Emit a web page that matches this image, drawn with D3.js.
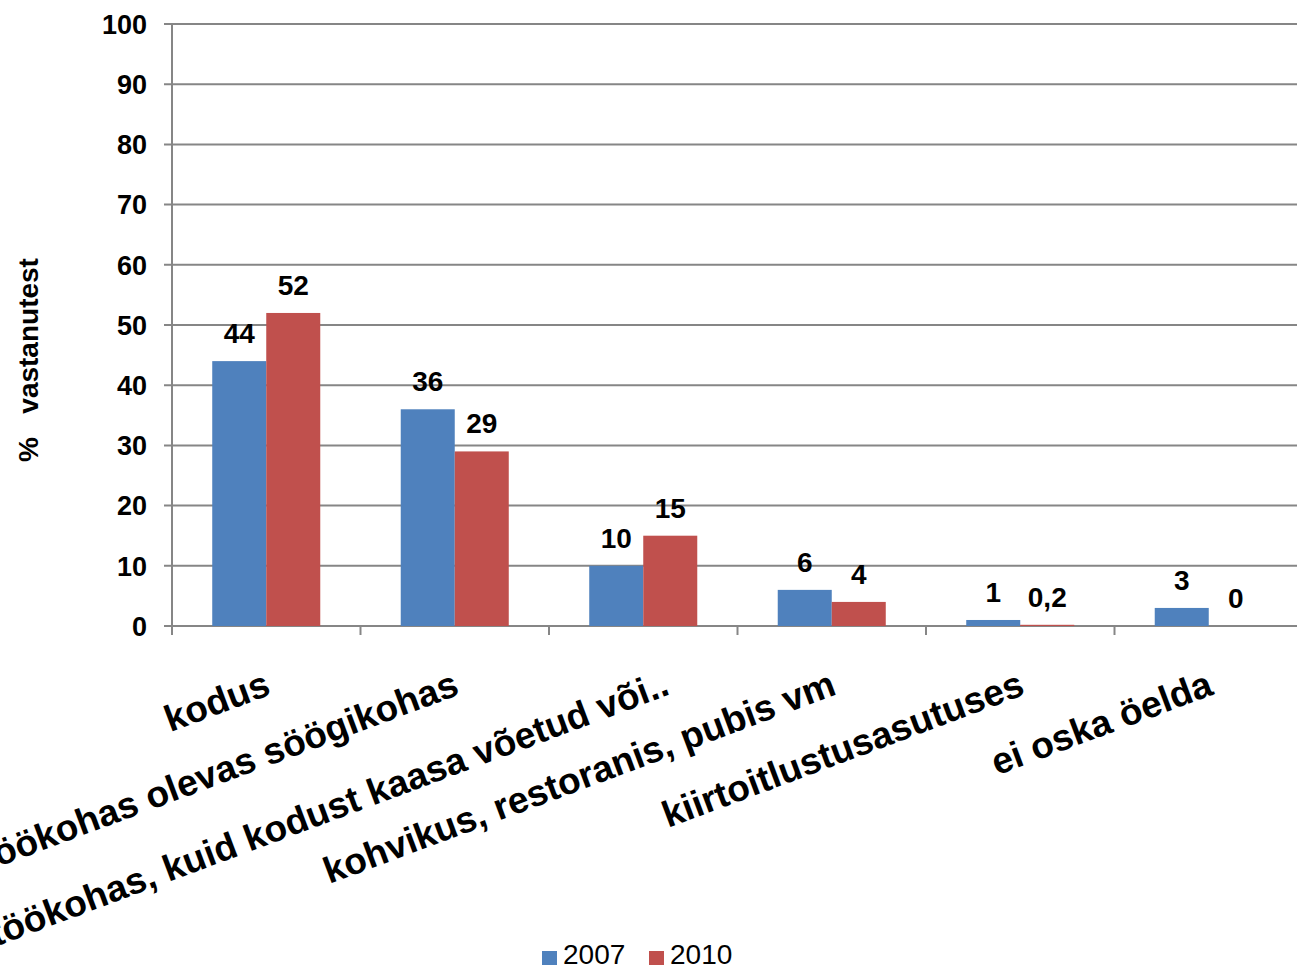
<!DOCTYPE html>
<html>
<head>
<meta charset="utf-8">
<script src="https://cdn.jsdelivr.net/npm/d3@7"></script>
<style>
  html, body { margin: 0; padding: 0; background: #fff; }
  svg { display: block; }
  text { font-family: "Liberation Sans", Arial, sans-serif; }
</style>
</head>
<body>
<svg id="chart" width="1297" height="969"></svg>
<script>
const categories = [
  "kodus",
  "töökohas olevas söögikohas",
  "töökohas, kuid kodust kaasa võetud või..",
  "kohvikus, restoranis, pubis vm",
  "kiirtoitlustusasutuses",
  "ei oska öelda"
];
const seriesNames = ["2007", "2010"];
const values2007 = [44, 36, 10, 6, 1, 3];
const values2010 = [52, 29, 15, 4, 0.2, 0];
const labels2007 = ["44", "36", "10", "6", "1", "3"];
const labels2010 = ["52", "29", "15", "4", "0,2", "0"];
const yTicks = [0, 10, 20, 30, 40, 50, 60, 70, 80, 90, 100];
const colors = ["#4F81BD", "#C0504D"];

(function () {
const svg = d3.select("#chart");
const mLeft = 172, mRight = 1303, mTop = 24, mBottom = 626;

const x = d3.scaleBand().domain(categories).range([mLeft, mRight]).paddingInner(0).paddingOuter(0);
const inner = d3.scaleBand().domain(seriesNames).range([0, x.bandwidth()]).paddingInner(0).paddingOuter(0.745);
const y = d3.scaleLinear().domain([0, 100]).range([mBottom, mTop]);

const gridColor = "#868686";

svg.append("g")
  .selectAll("line")
  .data(yTicks)
  .join("line")
  .attr("x1", mLeft - 8)
  .attr("x2", 1297)
  .attr("y1", d => y(d))
  .attr("y2", d => y(d))
  .attr("stroke", gridColor)
  .attr("stroke-width", 2);

svg.append("line")
  .attr("x1", mLeft).attr("x2", mLeft)
  .attr("y1", mTop).attr("y2", mBottom + 8)
  .attr("stroke", gridColor).attr("stroke-width", 2);

const boundaries = categories.map(c => x(c)).concat([mRight]);
svg.append("g").selectAll("line")
  .data(boundaries)
  .join("line")
  .attr("x1", d => d).attr("x2", d => d)
  .attr("y1", mBottom).attr("y2", mBottom + 9)
  .attr("stroke", gridColor).attr("stroke-width", 2);

svg.append("g").selectAll("text")
  .data(yTicks)
  .join("text")
  .attr("x", 147)
  .attr("y", d => y(d))
  .attr("dy", "0.36em")
  .attr("text-anchor", "end")
  .attr("font-size", 27)
  .attr("font-weight", "bold")
  .attr("fill", "#000")
  .text(d => d);

svg.append("text")
  .attr("transform", "translate(38,360) rotate(-90)")
  .attr("text-anchor", "middle")
  .attr("font-size", 28)
  .attr("font-weight", "bold")
  .style("white-space", "pre")
  .text("%   vastanutest");

const series = [values2007, values2010];
const seriesLabels = [labels2007, labels2010];
series.forEach((vals, si) => {
  const g = svg.append("g");
  g.selectAll("rect")
    .data(vals)
    .join("rect")
    .attr("x", (d, i) => x(categories[i]) + inner(seriesNames[si]))
    .attr("width", inner.bandwidth())
    .attr("y", d => y(d))
    .attr("height", d => y(0) - y(d))
    .attr("fill", colors[si]);
  g.selectAll("text")
    .data(vals)
    .join("text")
    .attr("x", (d, i) => x(categories[i]) + inner(seriesNames[si]) + inner.bandwidth() / 2)
    .attr("y", d => y(d) - 18)
    .attr("text-anchor", "middle")
    .attr("font-size", 28)
    .attr("font-weight", "bold")
    .attr("fill", "#000")
    .text((d, i) => seriesLabels[si][i]);
});

const labelShift = [0, 0, 22, 0, 0, 0];
svg.append("g").selectAll("text")
  .data(categories)
  .join("text")
  .attr("transform", (d, i) => {
    const cx = x(d) + x.bandwidth() / 2 + 6 + labelShift[i];
    return `translate(${cx},694) rotate(-20.5)`;
  })
  .attr("text-anchor", "end")
  .attr("font-size", 37)
  .attr("font-weight", "bold")
  .attr("fill", "#000")
  .text(d => d);

const legend = svg.append("g");
const legendItems = [{name: seriesNames[0], sx: 542}, {name: seriesNames[1], sx: 649}];
legend.selectAll("rect")
  .data(legendItems)
  .join("rect")
  .attr("x", d => d.sx)
  .attr("y", 951)
  .attr("width", 15)
  .attr("height", 14)
  .attr("fill", (d, i) => colors[i]);
legend.selectAll("text")
  .data(legendItems)
  .join("text")
  .attr("x", d => d.sx + 21)
  .attr("y", 964)
  .attr("font-size", 28)
  .attr("fill", "#000")
  .text(d => d.name);
})();
</script>
</body>
</html>
